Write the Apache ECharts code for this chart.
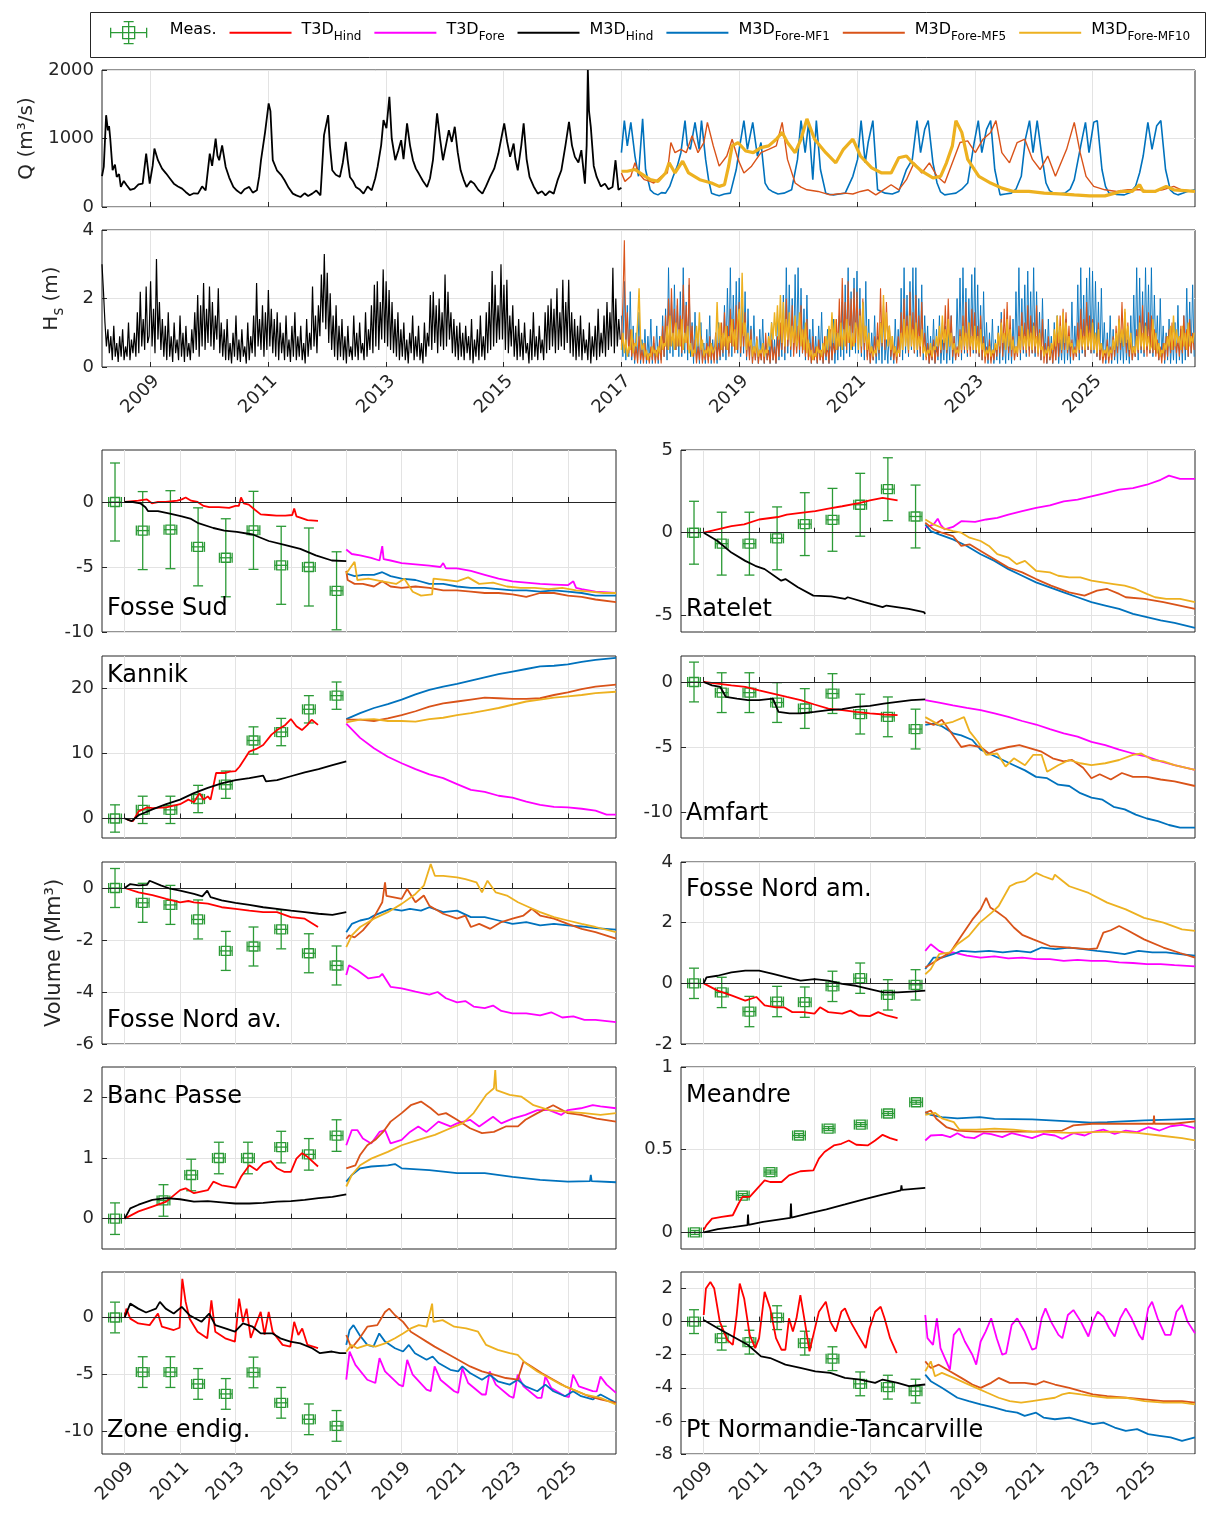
<!DOCTYPE html>
<html>
<head>
<meta charset="utf-8">
<script src="https://cdn.jsdelivr.net/npm/echarts@6/dist/echarts.min.js"></script>
<style>
  html, body { margin: 0; padding: 0; background: #fff; }
  #chart { width: 1208px; height: 1513px; }
</style>
</head>
<body>
<div id="chart"></div>
<script>
const FONT = '"DejaVu Sans", "Liberation Sans", sans-serif';
const X_MIN = 2008.18, X_MAX = 2026.74;
const YEAR_TICKS = [2009, 2011, 2013, 2015, 2017, 2019, 2021, 2023, 2025];

const COLORS = {
    meas: '#2b9a36', t3dHind: '#ff0000', t3dFore: '#ff00ff', m3dHind: '#000000',
    mf1: '#0072bd', mf5: '#d95319', mf10: '#edb120',
};
const NAMES = {
    meas: 'Meas.', t3dHind: 'T3D_Hind', t3dFore: 'T3D_Fore', m3dHind: 'M3D_Hind',
    mf1: 'M3D_Fore-MF1', mf5: 'M3D_Fore-MF5', mf10: 'M3D_Fore-MF10',
};
const LEGEND_LABELS = {
    'Meas.': '{g|}{b|Meas.}', 'T3D_Hind': '{g|}{b|T3D}{s|Hind}', 'T3D_Fore': '{g|}{b|T3D}{s|Fore}',
    'M3D_Hind': '{g|}{b|M3D}{s|Hind}', 'M3D_Fore-MF1': '{g|}{b|M3D}{s|Fore-MF1}',
    'M3D_Fore-MF5': '{g|}{b|M3D}{s|Fore-MF5}', 'M3D_Fore-MF10': '{g|}{b|M3D}{s|Fore-MF10}',
};

// ---- river discharge Q (m3/s), [year, value]
const qHind = [[2008.18,450],[2008.21,585],[2008.25,1340],[2008.28,1120],[2008.3,1180],[2008.32,1000],[2008.36,536],[2008.4,620],[2008.43,439],[2008.47,480],[2008.5,293],[2008.55,380],[2008.6,317],[2008.66,250],[2008.73,268],[2008.8,330],[2008.87,341],[2008.9,560],[2008.93,780],[2008.99,341],[2009.04,600],[2009.07,853],[2009.13,683],[2009.2,560],[2009.27,488],[2009.33,420],[2009.4,341],[2009.47,300],[2009.54,268],[2009.6,220],[2009.67,171],[2009.74,200],[2009.81,195],[2009.88,300],[2009.94,244],[2010.01,780],[2010.05,600],[2010.11,1000],[2010.14,750],[2010.17,683],[2010.22,900],[2010.28,585],[2010.34,430],[2010.41,293],[2010.47,240],[2010.54,195],[2010.6,260],[2010.68,293],[2010.74,210],[2010.81,244],[2010.85,450],[2010.88,683],[2010.95,1098],[2011.01,1512],[2011.04,1400],[2011.08,683],[2011.15,536],[2011.22,470],[2011.28,390],[2011.35,280],[2011.42,195],[2011.48,170],[2011.55,146],[2011.62,200],[2011.68,160],[2011.75,195],[2011.82,240],[2011.89,171],[2011.95,1049],[2012.02,1341],[2012.05,900],[2012.09,536],[2012.15,470],[2012.22,439],[2012.27,650],[2012.32,951],[2012.35,700],[2012.39,439],[2012.44,380],[2012.49,293],[2012.55,260],[2012.62,195],[2012.69,300],[2012.76,244],[2012.82,420],[2012.86,585],[2012.92,900],[2012.96,1268],[2013.01,1150],[2013.06,1610],[2013.1,1000],[2013.16,683],[2013.21,820],[2013.26,976],[2013.3,700],[2013.36,1220],[2013.41,900],[2013.46,683],[2013.51,560],[2013.56,488],[2013.63,380],[2013.7,293],[2013.75,420],[2013.8,683],[2013.87,1366],[2013.92,1000],[2013.97,683],[2014.02,900],[2014.07,1122],[2014.12,950],[2014.17,1171],[2014.22,800],[2014.27,536],[2014.32,400],[2014.37,293],[2014.44,380],[2014.5,341],[2014.57,250],[2014.64,195],[2014.7,300],[2014.77,439],[2014.84,560],[2014.91,780],[2014.96,1000],[2015.01,1220],[2015.06,950],[2015.11,732],[2015.17,927],[2015.2,700],[2015.24,536],[2015.3,900],[2015.34,1220],[2015.39,700],[2015.44,439],[2015.51,300],[2015.58,195],[2015.65,230],[2015.71,171],[2015.78,230],[2015.85,195],[2015.92,400],[2015.98,536],[2016.05,900],[2016.11,1244],[2016.16,900],[2016.21,732],[2016.27,650],[2016.32,829],[2016.38,341],[2016.41,900],[2016.43,2000],[2016.45,1400],[2016.48,1171],[2016.53,600],[2016.58,439],[2016.65,300],[2016.72,341],[2016.78,260],[2016.85,293],[2016.9,683],[2016.95,250],[2017.0,280]];
const qMF1 = [[2017.0,793],[2017.05,1261],[2017.1,892],[2017.16,1236],[2017.23,744],[2017.29,448],[2017.36,1286],[2017.41,547],[2017.49,251],[2017.55,200],[2017.62,177],[2017.68,210],[2017.75,202],[2017.82,300],[2017.88,448],[2017.95,600],[2018.01,793],[2018.08,1261],[2018.12,900],[2018.17,842],[2018.25,1236],[2018.32,842],[2018.36,1261],[2018.43,695],[2018.48,400],[2018.53,202],[2018.6,180],[2018.66,163],[2018.75,190],[2018.85,202],[2018.95,547],[2019.01,892],[2019.08,1261],[2019.14,842],[2019.23,1236],[2019.31,744],[2019.37,941],[2019.44,350],[2019.5,260],[2019.56,227],[2019.66,190],[2019.76,202],[2019.89,251],[2019.99,695],[2020.05,1261],[2020.12,793],[2020.18,1236],[2020.25,399],[2020.31,1261],[2020.38,547],[2020.47,202],[2020.53,185],[2020.6,177],[2020.7,190],[2020.8,202],[2020.93,448],[2021.01,695],[2021.07,1261],[2021.14,645],[2021.19,941],[2021.27,1261],[2021.35,251],[2021.48,202],[2021.6,190],[2021.71,227],[2021.84,547],[2021.94,695],[2022.02,1261],[2022.08,793],[2022.15,1133],[2022.21,1261],[2022.29,645],[2022.36,350],[2022.42,220],[2022.49,177],[2022.58,190],[2022.68,202],[2022.78,260],[2022.88,350],[2022.99,941],[2023.06,1261],[2023.12,793],[2023.2,1133],[2023.27,1261],[2023.34,547],[2023.43,177],[2023.52,190],[2023.62,202],[2023.7,260],[2023.79,448],[2023.86,990],[2023.93,1261],[2023.99,793],[2024.06,1261],[2024.14,744],[2024.21,350],[2024.27,240],[2024.34,202],[2024.43,190],[2024.53,202],[2024.62,260],[2024.69,399],[2024.81,941],[2024.88,1236],[2024.94,793],[2025.02,1236],[2025.08,1261],[2025.16,547],[2025.22,300],[2025.28,202],[2025.4,185],[2025.54,177],[2025.64,210],[2025.73,301],[2025.8,500],[2025.86,744],[2025.94,1236],[2026.01,842],[2026.09,1187],[2026.16,1261],[2026.24,547],[2026.32,251],[2026.38,200],[2026.45,177],[2026.53,200],[2026.61,227],[2026.74,251]];
const qMF5 = [[2017.0,497],[2017.06,374],[2017.16,448],[2017.23,645],[2017.29,497],[2017.39,399],[2017.47,380],[2017.55,350],[2017.68,448],[2017.78,497],[2017.84,941],[2017.91,793],[2018.01,842],[2018.1,793],[2018.2,1039],[2018.3,793],[2018.4,941],[2018.46,1236],[2018.56,892],[2018.66,596],[2018.79,744],[2018.88,990],[2018.98,695],[2019.08,497],[2019.21,596],[2019.37,793],[2019.5,842],[2019.63,892],[2019.73,1236],[2019.82,695],[2019.95,350],[2020.05,290],[2020.15,251],[2020.34,227],[2020.54,177],[2020.67,190],[2020.8,202],[2020.93,190],[2021.06,227],[2021.19,251],[2021.32,177],[2021.45,251],[2021.58,325],[2021.71,251],[2021.84,399],[2021.97,645],[2022.1,497],[2022.23,645],[2022.36,448],[2022.49,350],[2022.62,645],[2022.75,941],[2022.88,965],[2023.01,793],[2023.14,990],[2023.27,1089],[2023.36,1261],[2023.46,793],[2023.59,645],[2023.72,941],[2023.85,990],[2023.98,695],[2024.11,547],[2024.24,744],[2024.37,448],[2024.56,842],[2024.69,1236],[2024.79,793],[2024.89,448],[2025.02,301],[2025.21,251],[2025.41,227],[2025.6,251],[2025.8,251],[2025.99,227],[2026.19,251],[2026.38,301],[2026.51,251],[2026.74,227]];
const qMF10 = [[2017.0,522],[2017.1,522],[2017.23,547],[2017.36,473],[2017.49,399],[2017.62,374],[2017.75,497],[2017.81,645],[2017.91,497],[2018.04,670],[2018.14,497],[2018.33,399],[2018.53,350],[2018.66,301],[2018.75,325],[2018.82,596],[2018.88,892],[2018.98,941],[2019.11,818],[2019.24,793],[2019.37,867],[2019.5,892],[2019.63,990],[2019.73,1089],[2019.82,941],[2019.95,793],[2020.05,990],[2020.15,1286],[2020.28,990],[2020.47,793],[2020.64,645],[2020.77,842],[2020.93,990],[2021.06,744],[2021.25,571],[2021.42,497],[2021.58,497],[2021.71,719],[2021.84,744],[2021.94,645],[2022.1,522],[2022.29,424],[2022.42,448],[2022.52,645],[2022.62,892],[2022.68,1261],[2022.78,1089],[2022.88,695],[2023.07,448],[2023.27,350],[2023.46,276],[2023.66,227],[2023.92,227],[2024.18,202],[2024.44,192],[2024.69,177],[2024.95,163],[2025.21,163],[2025.38,202],[2025.47,227],[2025.67,227],[2025.8,325],[2025.86,227],[2026.06,227],[2026.25,301],[2026.38,251],[2026.74,227]];

// ---- wave height Hs (m), one sample every HS_DT years
const HS_DT = 0.025;
const HS_HIND_T0 = 2008.18;
const HS_FORE_T0 = 2017.0;
const hsHind = [
    3.0,2.2,1.3,0.6,1.1,0.4,0.9,0.2,1.2,0.3,0.7,0.15,0.9,0.3,1.1,0.2,0.6,0.3,1.3,0.2,0.8,0.4,1.0,0.3,1.6,0.4,2.2,0.6,1.4,0.5,2.35,0.7,
    0.9,2.5,0.6,1.7,0.4,3.15,0.8,1.9,0.5,1.4,0.3,1.2,0.2,1.6,0.3,0.9,0.15,1.3,0.4,0.8,0.2,1.5,0.3,1.0,0.15,1.2,0.3,0.7,0.2,1.1,0.4,1.6,0.5,2.1,0.3,1.8,0.6,2.45,0.5,1.7,
    0.7,2.35,0.6,1.9,0.5,1.5,0.8,2.3,0.4,1.3,0.3,1.1,0.2,1.4,0.2,0.7,0.1,1.0,0.3,1.5,0.2,0.8,0.15,1.1,0.3,0.6,0.1,1.3,0.2,0.9,0.4,1.5,0.3,2.45,0.6,1.4,0.5,1.8,0.3,1.6,
    0.5,2.25,0.6,1.7,0.4,1.4,0.3,1.6,0.2,1.3,0.4,1.0,0.2,1.5,0.3,0.8,0.15,1.2,0.3,1.6,0.2,0.9,0.3,1.2,0.2,0.7,0.1,1.4,0.3,1.0,0.5,2.35,0.6,1.5,0.4,1.8,0.9,2.7,1.3,3.3,
    1.1,2.75,0.7,2.15,0.5,1.5,0.3,1.8,0.2,1.2,0.3,1.4,0.2,0.9,0.1,1.2,0.3,0.6,0.2,1.5,0.3,1.0,0.2,1.3,0.4,0.7,0.2,1.6,0.3,1.1,0.5,1.8,0.4,2.4,0.6,2.5,0.5,1.9,0.8,2.85,
    0.7,2.5,0.6,2.25,0.5,1.9,0.4,1.4,0.3,1.6,0.2,1.1,0.3,1.3,0.2,0.8,0.1,1.0,0.4,1.5,0.2,0.9,0.3,1.2,0.2,0.7,0.1,1.3,0.3,1.0,0.6,2.1,0.5,2.2,0.7,1.8,0.4,2.0,0.6,1.6,
    0.5,2.7,0.6,2.2,0.8,1.6,0.4,1.4,0.3,1.2,0.2,1.3,0.3,1.0,0.2,1.2,0.4,0.9,0.2,1.4,0.1,0.8,0.3,1.1,0.2,1.5,0.3,0.9,0.2,1.6,0.4,1.9,0.5,2.8,0.6,2.4,0.7,1.8,0.8,3.0,
    0.8,2.4,0.5,2.55,0.4,1.5,0.6,1.8,0.3,1.2,0.2,1.4,0.3,1.0,0.2,1.3,0.4,0.7,0.1,1.1,0.2,1.6,0.3,0.9,0.2,1.2,0.4,0.8,0.2,1.6,0.4,1.8,0.5,2.0,0.6,1.7,0.4,2.3,0.5,1.6,
    0.6,2.55,0.5,1.9,0.7,2.55,0.4,1.6,0.3,1.4,0.2,1.2,0.3,1.5,0.2,1.1,0.4,0.8,0.2,1.3,0.1,0.9,0.3,1.2,0.2,1.7,0.3,1.0,0.4,1.5,0.3,1.9,0.5,1.6,0.6,2.9,0.4,2.0,0.6,1.4,
    0.8,
];
const hsMF1 = [
    1.5,0.3,2.5,0.2,1.8,0.3,2.2,0.2,1.2,0.1,1.0,0.2,1.6,0.1,0.8,0.2,1.1,0.1,0.9,0.2,1.4,0.1,0.7,0.2,1.2,0.1,0.9,0.2,1.5,0.3,1.7,0.2,2.9,0.4,2.0,0.3,2.4,0.5,1.8,0.3,
    2.2,0.3,2.9,0.4,1.9,0.2,2.4,0.3,1.3,0.1,1.6,0.2,0.9,0.1,1.3,0.2,0.7,0.1,1.1,0.2,1.5,0.1,0.8,0.2,1.0,0.1,1.3,0.2,0.9,0.3,1.8,0.2,2.3,0.4,2.9,0.3,2.1,0.5,2.5,0.4,
    2.6,0.3,2.0,0.4,2.2,0.2,1.7,0.3,1.2,0.1,1.5,0.2,0.8,0.1,1.1,0.2,1.4,0.1,0.7,0.2,1.0,0.1,1.3,0.2,0.8,0.1,1.6,0.2,1.0,0.3,2.1,0.2,2.9,0.4,2.4,0.3,2.0,0.5,2.7,0.4,
    2.9,0.3,2.3,0.4,1.7,0.2,2.1,0.3,1.1,0.1,1.4,0.2,0.9,0.1,1.2,0.2,1.6,0.1,0.8,0.2,1.1,0.1,0.9,0.2,1.4,0.1,1.0,0.2,1.5,0.3,1.9,0.2,2.4,0.4,2.9,0.3,2.2,0.5,2.6,0.4,
    2.8,0.4,2.3,0.3,1.9,0.2,2.5,0.3,1.4,0.1,1.0,0.2,1.5,0.1,0.9,0.2,1.3,0.1,1.7,0.2,0.8,0.1,1.2,0.2,0.9,0.1,1.4,0.2,1.1,0.3,2.3,0.2,2.9,0.4,2.1,0.3,2.5,0.5,2.9,0.4,
    2.9,0.3,2.0,0.4,2.4,0.2,1.5,0.3,1.2,0.1,0.9,0.2,1.4,0.1,1.1,0.2,1.5,0.1,0.8,0.2,1.2,0.1,1.0,0.2,1.5,0.1,0.9,0.2,2.0,0.3,2.6,0.2,2.9,0.4,2.3,0.3,2.0,0.5,2.7,0.4,
    2.9,0.4,2.4,0.3,1.8,0.2,2.2,0.3,1.3,0.1,1.0,0.2,1.4,0.1,0.8,0.2,1.2,0.1,1.6,0.2,0.9,0.1,1.3,0.2,1.0,0.1,1.4,0.2,2.2,0.3,2.9,0.2,2.0,0.4,2.4,0.3,2.8,0.5,2.2,0.4,
    2.9,0.3,2.2,0.4,1.6,0.2,2.0,0.3,1.1,0.1,1.4,0.2,0.9,0.1,1.3,0.2,1.5,0.1,0.8,0.2,1.1,0.1,1.4,0.2,0.9,0.1,1.9,0.2,1.2,0.3,2.4,0.2,2.9,0.4,2.1,0.3,2.6,0.5,2.9,0.4,
    2.8,0.4,2.5,0.3,1.9,0.2,2.3,0.3,1.3,0.1,1.0,0.2,1.5,0.1,1.1,0.2,0.9,0.1,1.4,0.2,1.0,0.1,1.3,0.2,0.8,0.1,1.5,0.2,2.1,0.3,2.9,0.2,2.6,0.4,2.2,0.3,2.9,0.5,2.4,0.4,
    2.9,0.3,2.1,0.4,1.5,0.2,2.0,0.3,1.2,0.1,1.0,0.2,1.4,0.1,0.9,0.2,1.3,0.1,1.8,0.2,1.1,0.1,1.5,0.2,2.3,0.3,1.9,0.4,2.4,0.3,
];
const hsMF5 = [
    0.6,1.9,3.7,0.7,1.6,0.4,1.1,0.3,0.8,0.2,0.6,0.1,0.9,0.2,0.5,0.1,0.7,0.2,0.4,0.1,0.6,0.2,0.9,0.1,0.5,0.2,0.8,0.1,1.2,0.3,1.5,0.5,2.0,0.6,2.3,0.8,1.7,0.5,2.0,0.6,
    1.5,0.4,2.4,0.7,1.8,0.5,2.6,0.6,1.2,0.3,0.8,0.1,0.6,0.2,0.9,0.1,0.5,0.2,0.7,0.1,0.9,0.2,0.6,0.1,1.0,0.2,0.7,0.3,1.3,0.4,1.6,0.5,1.2,0.3,1.7,0.6,1.4,0.4,1.8,0.5,
    1.9,0.4,1.3,0.6,1.6,0.3,0.9,0.2,1.1,0.1,0.6,0.2,0.9,0.1,0.5,0.2,0.7,0.1,1.0,0.2,0.5,0.1,0.8,0.2,0.6,0.1,0.9,0.3,1.3,0.5,1.6,0.4,2.0,0.6,1.4,0.5,1.8,0.3,1.2,0.4,
    1.2,0.5,1.8,0.4,1.1,0.3,1.4,0.2,0.7,0.1,0.9,0.2,0.6,0.1,0.8,0.2,0.5,0.1,0.9,0.3,0.6,0.1,1.1,0.2,0.7,0.4,1.4,0.5,2.0,0.6,2.6,0.8,1.9,0.5,2.5,0.7,2.0,0.6,2.3,0.7,
    2.2,0.6,1.7,0.4,2.0,0.5,1.2,0.2,0.8,0.1,0.6,0.2,0.9,0.3,1.3,0.4,2.3,0.6,1.8,0.5,1.9,0.7,1.2,0.3,0.8,0.2,0.6,0.1,0.9,0.3,1.6,0.5,2.0,0.7,1.5,0.4,2.2,0.6,1.6,0.4,
    2.1,0.5,1.5,0.3,1.9,0.4,1.0,0.2,0.7,0.1,0.5,0.2,0.8,0.1,0.6,0.3,1.0,0.4,1.3,0.5,1.8,0.4,2.0,0.6,1.5,0.3,0.9,0.2,0.6,0.3,1.1,0.4,1.5,0.5,1.9,0.4,1.3,0.3,1.7,0.5,
    1.6,0.4,1.2,0.3,1.5,0.2,0.9,0.1,0.6,0.2,0.8,0.1,0.5,0.2,0.7,0.3,1.0,0.4,1.4,0.3,1.7,0.5,1.9,0.4,1.5,0.3,0.9,0.2,0.6,0.3,1.2,0.4,1.6,0.5,1.3,0.4,1.8,0.3,1.5,0.4,
    1.3,0.4,1.8,0.3,1.1,0.2,1.4,0.1,0.7,0.1,0.9,0.2,0.6,0.1,0.8,0.2,1.0,0.3,1.5,0.4,1.7,0.5,1.6,0.4,1.2,0.3,0.8,0.2,0.6,0.3,1.3,0.4,1.7,0.5,1.4,0.3,1.9,0.5,1.5,0.4,
    1.4,0.5,1.0,0.3,1.3,0.2,0.7,0.1,0.5,0.2,0.8,0.1,0.6,0.2,0.9,0.3,1.2,0.4,1.5,0.5,1.9,0.6,1.6,0.4,1.3,0.3,0.8,0.2,0.6,0.3,1.1,0.4,1.5,0.5,1.8,0.4,1.3,0.3,1.6,0.4,
    1.5,0.4,1.1,0.3,0.8,0.2,0.6,0.1,0.7,0.2,0.9,0.3,1.1,0.4,1.3,0.5,1.0,0.4,0.8,0.3,1.2,0.4,1.5,0.5,1.1,0.3,1.4,0.4,1.0,0.5,
];
const hsMF10 = [
    0.5,1.0,0.4,0.8,0.3,0.6,0.5,1.1,0.4,0.7,0.6,1.3,2.3,0.8,0.5,0.7,0.3,0.5,0.2,0.4,0.3,0.6,0.4,0.5,0.3,0.6,0.4,0.9,0.5,0.7,0.6,1.2,0.5,1.5,0.6,1.0,0.5,1.3,0.6,1.1,
    0.6,1.4,0.5,1.0,0.7,1.2,0.4,0.7,0.3,0.5,0.4,1.2,0.6,1.6,0.5,0.8,0.3,0.5,0.4,0.6,0.3,0.7,0.4,0.5,0.6,1.9,0.7,1.3,0.5,1.0,0.6,1.2,0.5,0.9,0.7,1.4,0.6,1.1,0.5,1.3,
    1.7,0.6,2.75,0.9,1.3,0.5,1.0,0.6,0.8,0.3,0.6,0.4,0.8,0.3,0.5,0.4,0.7,0.3,0.5,0.4,0.9,0.6,1.3,0.8,1.6,0.9,1.8,0.8,2.1,0.7,1.9,0.6,1.4,0.8,1.6,0.6,1.2,0.7,1.5,0.6,
    0.8,1.6,0.6,1.1,0.5,1.3,0.4,0.8,0.3,0.5,0.2,0.4,0.3,0.6,0.4,0.5,0.3,0.7,0.4,0.9,0.5,1.2,0.6,1.6,0.7,1.4,0.5,1.0,0.6,1.3,0.5,1.1,0.6,1.4,0.7,1.2,0.5,1.0,0.6,1.3,
    1.1,0.5,1.5,0.6,1.9,0.7,1.2,0.5,1.0,0.4,0.6,0.3,0.5,0.4,0.8,0.5,1.3,0.7,2.1,0.8,1.6,0.6,1.2,0.5,0.9,0.4,0.6,0.3,0.5,0.4,1.0,0.5,1.4,0.6,1.2,0.5,1.5,0.6,1.1,0.5,
    1.3,0.5,0.9,0.6,1.1,0.4,0.6,0.3,0.5,0.4,0.7,0.3,0.6,0.5,0.9,0.6,1.2,0.5,1.5,0.7,1.1,0.5,1.4,0.6,1.0,0.5,0.7,0.4,0.5,0.4,0.9,0.5,1.2,0.6,1.0,0.5,1.3,0.6,0.9,0.5,
    1.2,0.5,0.9,0.4,1.1,0.5,0.7,0.3,0.5,0.4,0.6,0.3,0.5,0.4,0.7,0.5,1.0,0.6,1.3,0.7,1.0,0.5,1.4,0.6,1.1,0.5,0.8,0.4,0.6,0.4,0.9,0.5,1.2,0.6,0.9,0.5,1.1,0.6,1.0,0.5,
    1.2,0.6,0.9,0.4,1.0,0.5,0.6,0.3,0.5,0.4,0.6,0.3,0.7,0.5,1.1,0.6,1.5,0.7,1.2,0.5,1.6,0.7,1.3,0.5,0.9,0.6,0.7,0.4,0.5,0.4,0.8,0.5,1.1,0.6,0.9,0.5,1.2,0.6,1.0,0.5,
    1.3,0.5,1.0,0.4,1.1,0.5,0.7,0.3,0.5,0.4,0.6,0.3,0.5,0.4,0.8,0.5,1.0,0.6,1.4,0.7,1.1,0.6,1.7,0.7,1.2,0.5,1.0,0.4,0.6,0.4,0.9,0.5,1.3,0.6,1.0,0.5,1.2,0.6,0.9,0.5,
    0.6,1.4,0.5,1.0,0.4,0.7,0.3,0.5,0.4,0.7,0.5,0.9,0.6,1.2,0.5,1.5,0.6,1.1,0.7,0.9,0.5,1.2,0.6,1.0,0.5,1.3,0.6,0.9,0.7,1.0,
];

// ---- survey measurements (Mm3), one per year unless listed
const MEAS_T = [2008.65, 2009.65, 2010.65, 2011.65, 2012.65, 2013.65, 2014.65, 2015.65, 2016.65];
const BP_MEAS_T = [2008.65, 2010.4, 2011.4, 2012.4, 2013.45, 2014.65, 2015.65, 2016.65];
const MD_MEAS_T = [2008.68, 2010.41, 2011.41, 2012.44, 2013.51, 2014.67, 2015.66, 2016.67];
const fsMeasV = [0, -2.2, -2.13, -3.45, -4.29, -2.18, -4.87, -5.0, -6.83];
const rtMeasV = [0, -0.66, -0.66, -0.34, 0.52, 0.78, 1.69, 2.63, 0.98];
const knMeasV = [0, 1.33, 1.33, 3.0, 5.2, 12.0, 13.3, 16.8, 18.9];
const amMeasV = [0, -0.82, -0.82, -1.58, -2.04, -0.89, -2.47, -2.68, -3.62];
const fnaMeasV = [0, -0.57, -0.65, -1.21, -2.42, -2.25, -1.59, -2.51, -2.98];
const fnmMeasV = [0, -0.3, -0.93, -0.6, -0.62, -0.1, 0.17, -0.38, -0.05];
const bpMeasV = [0, 0.3, 0.72, 1.0, 1.0, 1.18, 1.06, 1.37];
const mdMeasV = [0, 0.223, 0.365, 0.586, 0.628, 0.652, 0.719, 0.787];
const zeMeasV = [0, -4.8, -4.8, -5.84, -6.72, -4.83, -7.5, -8.95, -9.53];
const pnMeasV = [0, -1.0, -1.24, 0.24, -1.3, -2.24, -3.76, -3.96, -4.2];
const MEAS_ERR = { fs: 3.0, rt: 1.9, kn: 2.1, am: 1.53, fna: 0.75, fnm: 0.5, bp: 0.26, md: 0.012, ze: 1.35, pn: 0.72 };

// ---- Fosse Sud
const fsT3dHind = [[2009.0,0],[2009.49,0.1],[2009.8,0.2],[2009.85,0.3],[2009.98,-0.1],[2010.2,0.0],[2010.48,0.0],[2010.9,0.1],[2011.06,0.2],[2011.2,0.35],[2011.4,0.1],[2011.63,0.0],[2011.85,-0.3],[2012.05,-0.4],[2012.4,-0.4],[2012.77,-0.45],[2013.0,-0.3],[2013.12,-0.3],[2013.2,0.35],[2013.3,-0.1],[2013.48,-0.2],[2013.7,-0.6],[2013.91,-0.95],[2014.2,-1.0],[2014.48,-1.05],[2014.8,-1.05],[2015.05,-1.0],[2015.12,-0.5],[2015.2,-1.1],[2015.34,-1.2],[2015.6,-1.4],[2015.98,-1.45]];
const fsM3dHind = [[2009.0,0],[2009.3,0.0],[2009.56,-0.1],[2009.75,-0.4],[2009.84,-0.7],[2010.2,-0.7],[2010.63,-0.9],[2011.06,-1.1],[2011.4,-1.3],[2011.63,-1.6],[2012.2,-2.0],[2012.6,-2.2],[2013.05,-2.3],[2013.62,-2.5],[2014.2,-3.0],[2014.77,-3.3],[2015.34,-3.6],[2015.9,-4.1],[2016.48,-4.5],[2017.0,-4.55]];
const fsT3dFore = [[2017.0,-3.65],[2017.2,-4.0],[2017.5,-4.1],[2017.9,-4.3],[2018.2,-4.5],[2018.3,-3.4],[2018.35,-4.4],[2018.6,-4.5],[2019.0,-4.7],[2019.5,-4.8],[2020.0,-4.9],[2020.4,-5.0],[2020.5,-4.7],[2020.6,-5.1],[2021.0,-5.1],[2021.5,-5.3],[2022.0,-5.6],[2022.5,-5.9],[2023.0,-6.1],[2023.5,-6.2],[2024.0,-6.3],[2024.5,-6.35],[2025.0,-6.4],[2025.2,-6.1],[2025.3,-6.6],[2025.5,-6.7],[2026.0,-6.9],[2026.74,-7.0]];
const fsMF1 = [[2017.0,-5.5],[2017.3,-5.7],[2017.6,-5.6],[2018.0,-5.6],[2018.3,-5.4],[2018.6,-5.7],[2019.0,-5.9],[2019.5,-6.0],[2020.0,-6.3],[2020.5,-6.3],[2021.0,-6.5],[2021.5,-6.6],[2022.0,-6.6],[2022.5,-6.7],[2023.0,-6.8],[2023.5,-6.8],[2024.0,-6.9],[2024.5,-6.8],[2025.0,-6.9],[2025.5,-7.0],[2026.0,-7.2],[2026.74,-7.2]];
const fsMF5 = [[2017.0,-5.3],[2017.05,-6.0],[2017.3,-6.3],[2017.6,-6.3],[2018.0,-6.5],[2018.3,-6.1],[2018.6,-6.5],[2019.0,-6.6],[2019.5,-6.5],[2020.0,-6.6],[2020.5,-6.8],[2021.0,-6.8],[2021.5,-6.9],[2022.0,-7.0],[2022.5,-7.0],[2023.0,-7.1],[2023.5,-7.3],[2024.0,-7.0],[2024.5,-7.0],[2025.0,-7.2],[2025.5,-7.3],[2026.0,-7.5],[2026.74,-7.7]];
const fsMF10 = [[2017.0,-5.5],[2017.3,-4.6],[2017.4,-6.0],[2017.8,-5.9],[2018.3,-6.1],[2018.8,-6.3],[2019.1,-5.9],[2019.4,-6.9],[2019.7,-7.2],[2020.1,-7.1],[2020.15,-5.9],[2020.6,-6.0],[2021.0,-6.1],[2021.4,-5.8],[2021.8,-6.3],[2022.3,-6.2],[2022.8,-6.5],[2023.3,-6.6],[2023.8,-6.6],[2024.3,-6.7],[2024.8,-6.6],[2025.3,-6.8],[2025.8,-6.9],[2026.3,-7.0],[2026.74,-7.0]];

// ---- Ratelet
const rtT3dHind = [[2009.0,0],[2009.5,0.2],[2010.0,0.4],[2010.46,0.5],[2011.0,0.8],[2011.68,0.95],[2012.0,1.1],[2012.5,1.2],[2013.03,1.3],[2013.5,1.45],[2014.0,1.6],[2014.65,1.8],[2015.0,1.95],[2015.46,2.1],[2016.0,1.95]];
const rtM3dHind = [[2009.0,0],[2009.5,-0.5],[2010.0,-1.2],[2010.5,-1.7],[2010.86,-2.0],[2011.2,-2.2],[2011.8,-2.9],[2011.95,-2.8],[2012.4,-3.3],[2012.96,-3.8],[2013.6,-3.85],[2014.1,-4.0],[2014.2,-3.9],[2014.8,-4.2],[2015.46,-4.5],[2015.6,-4.4],[2016.4,-4.6],[2016.95,-4.8],[2017.0,-4.9]];
const rtT3dFore = [[2017.0,0.3],[2017.3,0.5],[2017.45,0.85],[2017.55,0.5],[2017.7,0.2],[2018.0,0.35],[2018.3,0.7],[2018.8,0.65],[2019.2,0.8],[2019.6,0.9],[2020.0,1.1],[2020.5,1.3],[2021.0,1.5],[2021.5,1.65],[2022.0,1.9],[2022.5,2.0],[2023.0,2.2],[2023.5,2.4],[2024.0,2.6],[2024.5,2.7],[2025.0,2.9],[2025.5,3.2],[2025.8,3.45],[2026.2,3.25],[2026.74,3.25]];
const rtMF1 = [[2017.0,0.5],[2017.2,0.1],[2017.5,-0.1],[2018.0,-0.4],[2018.5,-0.8],[2019.0,-1.3],[2019.5,-1.7],[2020.0,-2.2],[2020.5,-2.6],[2021.0,-3.0],[2021.5,-3.3],[2022.0,-3.6],[2022.5,-3.9],[2023.0,-4.2],[2023.5,-4.4],[2024.0,-4.6],[2024.5,-4.9],[2025.0,-5.1],[2025.5,-5.3],[2026.0,-5.45],[2026.74,-5.75]];
const rtMF5 = [[2017.0,0.6],[2017.3,0.2],[2017.6,0.0],[2018.0,-0.2],[2018.3,-0.8],[2018.6,-0.7],[2019.0,-1.1],[2019.5,-1.6],[2020.0,-2.1],[2020.5,-2.4],[2021.0,-2.8],[2021.54,-3.2],[2022.2,-3.6],[2022.75,-3.8],[2023.2,-3.5],[2023.57,-3.4],[2024.0,-3.7],[2024.24,-3.9],[2024.92,-4.0],[2025.6,-4.2],[2026.74,-4.6]];
const rtMF10 = [[2017.0,0.8],[2017.3,0.5],[2017.6,0.3],[2018.0,0.1],[2018.3,0.0],[2018.6,-0.3],[2019.0,-0.5],[2019.3,-0.8],[2019.6,-1.3],[2020.0,-1.5],[2020.3,-1.9],[2020.6,-1.7],[2021.0,-2.3],[2021.5,-2.4],[2021.8,-2.6],[2022.2,-2.7],[2022.6,-2.7],[2023.0,-2.9],[2023.4,-3.0],[2023.8,-3.1],[2024.2,-3.2],[2024.6,-3.4],[2025.0,-3.7],[2025.3,-3.9],[2025.7,-4.0],[2026.2,-4.0],[2026.74,-4.2]];

// ---- Kannik
const knT3dHind = [[2009.1,-0.2],[2009.3,-0.4],[2009.5,1.1],[2009.8,1.7],[2010.0,1.6],[2010.5,1.7],[2011.0,2.2],[2011.3,2.9],[2011.5,2.5],[2011.7,3.9],[2011.85,2.9],[2012.0,3.4],[2012.1,2.9],[2012.3,7.0],[2012.6,7.0],[2012.8,7.2],[2013.0,7.3],[2013.15,8.0],[2013.35,9.3],[2013.5,10.3],[2013.75,10.7],[2014.0,11.3],[2014.3,12.9],[2014.5,13.6],[2014.8,14.4],[2015.0,15.3],[2015.2,14.2],[2015.4,13.6],[2015.6,14.4],[2015.75,15.2],[2015.98,14.4]];
const knM3dHind = [[2009.0,0],[2009.25,-0.4],[2009.5,0.5],[2010.0,1.4],[2010.5,2.2],[2011.0,2.9],[2011.5,3.9],[2012.0,4.7],[2012.5,5.4],[2013.0,5.9],[2013.5,6.2],[2014.0,6.6],[2014.1,5.7],[2014.5,5.9],[2015.0,6.5],[2015.5,7.1],[2016.0,7.6],[2016.5,8.2],[2017.0,8.8]];
const knT3dFore = [[2017.0,14.6],[2017.5,12.4],[2018.0,10.8],[2018.5,9.5],[2019.0,8.5],[2019.5,7.6],[2020.0,6.8],[2020.5,6.2],[2021.0,5.3],[2021.5,4.4],[2022.0,4.1],[2022.5,3.5],[2023.0,3.2],[2023.5,2.6],[2024.0,2.1],[2024.5,1.8],[2025.0,1.7],[2025.5,1.5],[2026.0,1.2],[2026.4,0.6],[2026.74,0.6]];
const knMF1 = [[2017.0,15.3],[2017.5,16.2],[2018.0,17.0],[2018.5,17.6],[2019.0,18.3],[2019.5,19.1],[2020.0,19.8],[2020.5,20.3],[2021.0,20.7],[2021.5,21.2],[2022.0,21.7],[2022.5,22.2],[2023.0,22.6],[2023.5,23.0],[2024.0,23.4],[2024.5,23.5],[2025.0,23.7],[2025.5,24.1],[2026.0,24.4],[2026.74,24.7]];
const knMF5 = [[2017.0,15.2],[2017.5,15.2],[2018.0,15.0],[2018.5,15.4],[2019.0,15.9],[2019.5,16.5],[2020.0,17.2],[2020.5,17.7],[2021.0,18.0],[2021.5,18.3],[2022.0,18.6],[2022.5,18.5],[2023.0,18.4],[2023.5,18.4],[2024.0,18.5],[2024.5,19.0],[2025.0,19.4],[2025.5,19.9],[2026.0,20.3],[2026.74,20.6]];
const knMF10 = [[2017.0,14.8],[2017.5,15.2],[2018.0,15.3],[2018.5,15.0],[2019.0,15.0],[2019.5,14.9],[2020.0,15.3],[2020.5,15.5],[2021.0,15.9],[2021.5,16.2],[2022.0,16.6],[2022.5,17.0],[2023.0,17.5],[2023.5,18.0],[2024.0,18.3],[2024.5,18.6],[2025.0,18.8],[2025.5,19.0],[2026.0,19.3],[2026.74,19.5]];

// ---- Amfart
const amT3dHind = [[2009.0,0],[2009.5,-0.13],[2010.0,-0.26],[2010.5,-0.38],[2011.0,-0.64],[2011.5,-0.89],[2012.0,-1.15],[2012.5,-1.4],[2013.0,-1.73],[2013.5,-2.04],[2014.0,-2.17],[2014.5,-2.3],[2015.0,-2.42],[2015.5,-2.5],[2016.0,-2.55]];
const amM3dHind = [[2009.0,0],[2009.3,-0.26],[2009.6,-0.38],[2009.8,-1.15],[2010.2,-1.28],[2010.6,-1.4],[2011.0,-1.4],[2011.5,-1.28],[2011.7,-2.3],[2012.1,-2.42],[2012.5,-2.42],[2013.0,-2.3],[2013.5,-2.17],[2014.0,-2.09],[2014.5,-1.91],[2015.0,-1.84],[2015.5,-1.66],[2016.0,-1.53],[2016.5,-1.4],[2017.0,-1.33]];
const amT3dFore = [[2017.0,-1.4],[2017.5,-1.58],[2018.0,-1.79],[2018.5,-1.99],[2019.0,-2.17],[2019.5,-2.42],[2020.0,-2.68],[2020.5,-3.0],[2021.0,-3.27],[2021.5,-3.62],[2022.0,-3.95],[2022.5,-4.2],[2023.0,-4.6],[2023.5,-4.85],[2024.0,-5.2],[2024.5,-5.5],[2025.0,-5.74],[2025.5,-6.1],[2026.0,-6.4],[2026.74,-6.76]];
const amMF1 = [[2017.0,-3.3],[2017.3,-3.2],[2017.6,-3.4],[2018.0,-3.95],[2018.3,-4.1],[2018.7,-4.46],[2019.0,-5.2],[2019.4,-5.6],[2019.8,-6.0],[2020.2,-6.4],[2020.6,-6.8],[2021.0,-7.3],[2021.4,-7.4],[2021.8,-7.9],[2022.2,-8.0],[2022.6,-8.55],[2023.0,-8.9],[2023.4,-9.05],[2023.8,-9.6],[2024.2,-9.8],[2024.6,-10.2],[2025.0,-10.5],[2025.4,-10.7],[2025.8,-11.0],[2026.2,-11.2],[2026.74,-11.2]];
const amMF5 = [[2017.0,-3.06],[2017.3,-3.3],[2017.6,-2.9],[2018.0,-4.1],[2018.3,-5.0],[2018.6,-4.85],[2019.0,-5.0],[2019.3,-5.5],[2019.6,-5.2],[2020.0,-5.0],[2020.4,-4.85],[2020.8,-5.1],[2021.2,-5.36],[2021.6,-5.87],[2022.0,-6.1],[2022.3,-6.0],[2022.7,-6.6],[2023.0,-7.4],[2023.3,-7.1],[2023.7,-7.5],[2024.1,-7.0],[2024.5,-7.3],[2025.0,-7.3],[2025.5,-7.5],[2026.0,-7.65],[2026.74,-8.0]];
const amMF10 = [[2017.0,-2.7],[2017.5,-3.3],[2018.0,-3.06],[2018.4,-2.7],[2018.6,-3.8],[2018.9,-4.6],[2019.2,-5.6],[2019.6,-5.5],[2019.9,-6.5],[2020.2,-5.87],[2020.6,-6.4],[2020.9,-5.6],[2021.2,-5.6],[2021.4,-6.9],[2021.8,-6.4],[2022.2,-6.0],[2022.6,-6.25],[2023.0,-6.4],[2023.5,-6.25],[2024.0,-6.0],[2024.5,-5.6],[2024.8,-5.5],[2025.2,-6.0],[2025.6,-6.1],[2026.0,-6.4],[2026.74,-6.76]];

// ---- Fosse Nord av.
const fnaT3dHind = [[2009.0,0],[2009.5,-0.17],[2010.0,-0.27],[2010.5,-0.42],[2011.0,-0.55],[2011.3,-0.5],[2011.5,-0.55],[2012.0,-0.6],[2012.5,-0.74],[2013.0,-0.8],[2013.5,-0.87],[2014.0,-0.93],[2014.5,-0.93],[2015.0,-1.12],[2015.5,-1.18],[2015.98,-1.5]];
const fnaM3dHind = [[2009.0,0],[2009.2,0.15],[2009.5,0.1],[2009.8,0.12],[2009.9,0.28],[2010.3,0.1],[2010.6,-0.01],[2011.0,-0.1],[2011.5,-0.23],[2011.8,-0.32],[2011.98,-0.1],[2012.1,-0.35],[2012.5,-0.48],[2013.0,-0.57],[2013.5,-0.65],[2014.0,-0.74],[2014.5,-0.8],[2015.0,-0.87],[2015.5,-0.93],[2016.0,-0.99],[2016.5,-1.03],[2017.0,-0.93]];
const fnaT3dFore = [[2017.0,-3.35],[2017.1,-2.97],[2017.4,-3.16],[2017.8,-3.48],[2018.2,-3.41],[2018.3,-3.3],[2018.6,-3.8],[2019.0,-3.86],[2019.5,-3.99],[2020.0,-4.1],[2020.3,-4.0],[2020.6,-4.24],[2021.0,-4.4],[2021.3,-4.35],[2021.6,-4.56],[2022.0,-4.62],[2022.3,-4.52],[2022.6,-4.73],[2023.0,-4.82],[2023.5,-4.82],[2024.0,-4.9],[2024.4,-4.78],[2024.8,-4.98],[2025.2,-4.94],[2025.6,-5.07],[2026.0,-5.07],[2026.74,-5.16]];
const fnaMF1 = [[2017.0,-1.7],[2017.2,-1.38],[2017.5,-1.25],[2017.8,-1.18],[2018.0,-1.06],[2018.3,-0.93],[2018.6,-0.8],[2019.0,-0.87],[2019.3,-0.8],[2019.7,-0.87],[2020.0,-0.74],[2020.5,-0.93],[2021.0,-0.87],[2021.5,-1.12],[2022.0,-1.12],[2022.5,-1.25],[2023.0,-1.38],[2023.5,-1.31],[2024.0,-1.44],[2024.5,-1.38],[2025.0,-1.44],[2025.5,-1.48],[2026.0,-1.54],[2026.74,-1.6]];
const fnaMF5 = [[2017.0,-1.95],[2017.1,-1.82],[2017.3,-1.9],[2017.6,-1.63],[2018.0,-1.12],[2018.3,-0.55],[2018.4,0.22],[2018.45,-0.3],[2018.5,-0.23],[2019.0,-0.42],[2019.2,-0.04],[2019.5,-0.55],[2019.8,-0.29],[2020.0,-0.68],[2020.5,-0.99],[2021.0,-1.18],[2021.3,-1.06],[2021.5,-1.5],[2021.8,-1.38],[2022.2,-1.57],[2022.6,-1.31],[2023.0,-1.18],[2023.4,-1.06],[2023.7,-0.8],[2024.0,-1.06],[2024.5,-1.18],[2025.0,-1.38],[2025.5,-1.57],[2026.0,-1.7],[2026.74,-1.95]];
const fnaMF10 = [[2017.0,-2.27],[2017.2,-1.82],[2017.5,-1.5],[2018.0,-1.18],[2018.5,-0.93],[2019.0,-0.61],[2019.5,-0.23],[2019.8,0.09],[2020.05,0.92],[2020.2,0.47],[2020.5,0.47],[2021.0,0.41],[2021.3,0.34],[2021.7,0.22],[2021.9,-0.17],[2022.1,0.28],[2022.4,-0.17],[2022.8,-0.29],[2023.2,-0.55],[2023.6,-0.74],[2024.0,-0.93],[2024.5,-1.12],[2025.0,-1.25],[2025.5,-1.38],[2026.0,-1.5],[2026.74,-1.7]];

// ---- Fosse Nord am.
const fnmT3dHind = [[2009.0,0],[2009.5,-0.24],[2010.0,-0.4],[2010.5,-0.57],[2010.9,-0.45],[2011.2,-0.73],[2011.6,-0.79],[2011.9,-0.79],[2012.2,-0.95],[2012.6,-0.95],[2013.0,-1.0],[2013.2,-0.79],[2013.5,-0.95],[2014.0,-1.0],[2014.3,-0.9],[2014.6,-1.06],[2015.0,-1.08],[2015.3,-0.95],[2015.6,-1.06],[2016.0,-1.15]];
const fnmM3dHind = [[2009.0,0],[2009.1,0.2],[2009.5,0.25],[2010.0,0.36],[2010.5,0.42],[2011.0,0.42],[2011.5,0.31],[2012.0,0.2],[2012.5,0.09],[2013.0,0.14],[2013.5,0.09],[2014.0,-0.02],[2014.5,-0.08],[2015.0,-0.19],[2015.5,-0.3],[2016.0,-0.3],[2016.5,-0.27],[2017.0,-0.24]];
const fnmT3dFore = [[2017.0,1.07],[2017.2,1.29],[2017.5,1.07],[2017.8,0.96],[2018.0,1.02],[2018.5,0.91],[2019.0,0.85],[2019.5,0.89],[2020.0,0.82],[2020.5,0.85],[2021.0,0.8],[2021.5,0.8],[2022.0,0.74],[2022.5,0.77],[2023.0,0.74],[2023.5,0.74],[2024.0,0.69],[2024.5,0.67],[2025.0,0.63],[2025.5,0.63],[2026.0,0.6],[2026.74,0.56]];
const fnmMF1 = [[2017.0,0.47],[2017.3,0.85],[2017.6,0.85],[2018.0,0.96],[2018.3,1.07],[2018.8,1.04],[2019.3,1.07],[2019.8,1.02],[2020.3,1.07],[2020.8,1.02],[2021.2,1.18],[2021.7,1.13],[2022.2,1.18],[2022.7,1.13],[2023.2,1.07],[2023.7,1.02],[2024.2,0.96],[2024.7,1.07],[2025.2,1.02],[2025.7,1.02],[2026.2,0.96],[2026.74,0.91]];
const fnmMF5 = [[2017.0,0.52],[2017.5,0.8],[2017.9,1.02],[2018.3,1.56],[2018.7,2.1],[2019.0,2.44],[2019.2,2.82],[2019.35,2.5],[2019.6,2.35],[2019.9,2.15],[2020.2,1.84],[2020.5,1.6],[2020.9,1.45],[2021.5,1.23],[2022.2,1.18],[2022.9,1.13],[2023.2,1.15],[2023.43,1.67],[2023.7,1.75],[2024.0,1.89],[2024.3,1.75],[2024.9,1.45],[2025.6,1.18],[2026.2,1.0],[2026.74,0.85]];
const fnmMF10 = [[2017.0,0.3],[2017.2,0.47],[2017.5,0.96],[2017.9,1.02],[2018.16,1.29],[2018.57,1.56],[2018.97,2.0],[2019.4,2.33],[2019.65,2.55],[2020.05,3.2],[2020.3,3.31],[2020.6,3.37],[2021.0,3.64],[2021.27,3.53],[2021.6,3.42],[2021.68,3.58],[2022.2,3.2],[2022.9,2.98],[2023.57,2.66],[2024.24,2.44],[2024.9,2.16],[2025.6,2.0],[2026.27,1.78],[2026.74,1.73]];

// ---- Banc Passe
const bpT3dHind = [[2009.0,0],[2009.5,0.12],[2010.0,0.2],[2010.5,0.28],[2011.0,0.47],[2011.2,0.5],[2011.5,0.42],[2012.0,0.47],[2012.2,0.61],[2012.5,0.55],[2013.0,0.51],[2013.2,0.69],[2013.5,0.88],[2013.77,0.8],[2014.0,0.91],[2014.27,0.95],[2014.5,0.83],[2014.77,0.77],[2015.0,0.77],[2015.2,0.99],[2015.4,1.08],[2015.6,1.02],[2015.98,0.86]];
const bpM3dHind = [[2009.0,0],[2009.2,0.17],[2009.5,0.23],[2010.0,0.31],[2010.5,0.34],[2011.0,0.32],[2011.5,0.28],[2012.0,0.29],[2012.5,0.27],[2013.0,0.25],[2013.5,0.25],[2014.0,0.26],[2014.5,0.28],[2015.0,0.29],[2015.5,0.31],[2016.0,0.34],[2016.5,0.36],[2017.0,0.4]];
const bpT3dFore = [[2017.0,1.21],[2017.2,1.46],[2017.4,1.46],[2017.6,1.32],[2017.9,1.24],[2018.2,1.43],[2018.4,1.46],[2018.6,1.24],[2019.0,1.3],[2019.3,1.43],[2019.6,1.52],[2019.9,1.43],[2020.33,1.6],[2020.76,1.52],[2021.0,1.57],[2021.47,1.63],[2021.8,1.52],[2022.3,1.68],[2022.6,1.57],[2023.0,1.65],[2023.47,1.71],[2023.9,1.79],[2024.33,1.79],[2024.76,1.71],[2025.0,1.79],[2025.47,1.82],[2025.9,1.87],[2026.18,1.85],[2026.74,1.82]];
const bpMF1 = [[2017.0,0.61],[2017.2,0.72],[2017.5,0.83],[2017.9,0.86],[2018.5,0.88],[2018.76,0.9],[2019.0,0.83],[2020.0,0.8],[2021.0,0.75],[2022.0,0.75],[2023.0,0.69],[2024.0,0.64],[2025.0,0.61],[2025.8,0.62],[2025.83,0.72],[2025.86,0.62],[2026.74,0.6]];
const bpMF5 = [[2017.0,0.83],[2017.33,0.88],[2017.5,1.05],[2017.76,1.21],[2018.05,1.3],[2018.33,1.43],[2018.6,1.6],[2019.0,1.74],[2019.33,1.87],[2019.7,1.93],[2020.05,1.82],[2020.33,1.71],[2020.6,1.74],[2021.0,1.63],[2021.47,1.49],[2021.9,1.41],[2022.33,1.43],[2022.76,1.52],[2023.2,1.52],[2023.47,1.63],[2023.9,1.74],[2024.47,1.87],[2025.0,1.74],[2025.47,1.71],[2026.04,1.65],[2026.74,1.6]];
const bpMF10 = [[2017.0,0.53],[2017.2,0.72],[2017.5,0.88],[2017.9,0.99],[2018.5,1.1],[2019.0,1.21],[2019.6,1.3],[2020.2,1.38],[2020.76,1.49],[2021.2,1.57],[2021.6,1.74],[2022.05,2.04],[2022.33,2.15],[2022.38,2.45],[2022.42,2.12],[2022.9,2.04],[2023.33,2.01],[2023.76,1.87],[2024.33,1.79],[2025.0,1.76],[2025.6,1.74],[2026.18,1.71],[2026.74,1.74]];

// ---- Meandre
const mdT3dHind = [[2009.0,0.014],[2009.1,0.044],[2009.3,0.084],[2009.65,0.094],[2010.05,0.104],[2010.26,0.175],[2010.4,0.215],[2010.66,0.215],[2010.93,0.265],[2011.2,0.315],[2011.4,0.305],[2011.81,0.305],[2012.08,0.345],[2012.49,0.37],[2012.96,0.375],[2013.16,0.446],[2013.36,0.486],[2013.7,0.526],[2013.97,0.536],[2014.24,0.556],[2014.51,0.53],[2014.92,0.526],[2015.19,0.556],[2015.46,0.59],[2015.73,0.57],[2016.0,0.556]];
const mdM3dHind = [[2009.0,0],[2009.51,0.02],[2010.05,0.032],[2010.58,0.044],[2010.6,0.108],[2010.62,0.046],[2011.14,0.064],[2012.13,0.088],[2012.15,0.175],[2012.17,0.09],[2012.76,0.114],[2013.43,0.14],[2014.1,0.169],[2014.78,0.2],[2015.46,0.229],[2016.12,0.255],[2016.14,0.285],[2016.16,0.257],[2016.68,0.265],[2017.0,0.269]];
const mdT3dFore = [[2017.0,0.556],[2017.2,0.586],[2017.6,0.59],[2017.9,0.576],[2018.16,0.6],[2018.43,0.576],[2018.77,0.57],[2019.1,0.6],[2019.38,0.594],[2019.78,0.576],[2020.12,0.6],[2020.46,0.586],[2020.86,0.57],[2021.27,0.596],[2021.68,0.586],[2021.95,0.566],[2022.35,0.6],[2022.76,0.586],[2023.03,0.606],[2023.43,0.622],[2023.84,0.596],[2024.24,0.616],[2024.65,0.606],[2025.05,0.636],[2025.46,0.616],[2025.86,0.642],[2026.27,0.65],[2026.74,0.63]];
const mdMF1 = [[2017.0,0.727],[2017.2,0.71],[2017.6,0.697],[2018.16,0.69],[2018.97,0.697],[2019.5,0.687],[2020.86,0.683],[2022.2,0.671],[2023.0,0.663],[2023.57,0.667],[2024.92,0.677],[2026.74,0.687]];
const mdMF5 = [[2017.0,0.723],[2017.2,0.737],[2017.4,0.687],[2017.76,0.637],[2018.16,0.616],[2018.84,0.61],[2019.5,0.61],[2020.86,0.61],[2021.95,0.616],[2022.35,0.647],[2023.03,0.657],[2023.84,0.657],[2024.92,0.657],[2025.24,0.657],[2025.26,0.707],[2025.28,0.657],[2025.99,0.657],[2026.74,0.671]];
const mdMF10 = [[2017.0,0.71],[2017.35,0.723],[2017.6,0.69],[2018.03,0.667],[2018.23,0.622],[2018.84,0.622],[2019.5,0.627],[2020.19,0.622],[2020.86,0.61],[2021.54,0.606],[2022.2,0.602],[2023.0,0.606],[2023.84,0.61],[2024.65,0.602],[2025.46,0.586],[2026.27,0.57],[2026.74,0.556]];

// ---- Zone endig.
const zeT3dHind = [[2009.0,0],[2009.06,0.78],[2009.2,-0.1],[2009.49,-0.52],[2009.9,-0.67],[2010.2,0.35],[2010.34,-0.8],[2010.77,-1.1],[2010.98,-0.9],[2011.08,3.4],[2011.2,1.37],[2011.34,-0.09],[2011.63,-1.25],[2011.98,-1.83],[2012.13,1.5],[2012.27,-1.25],[2012.63,-1.83],[2012.98,-2.12],[2013.13,1.66],[2013.27,-0.4],[2013.4,0.78],[2013.55,-1.8],[2013.77,-0.38],[2013.91,0.49],[2014.05,-1.5],[2014.2,0.49],[2014.34,-1.25],[2014.7,-2.41],[2014.98,-2.56],[2015.12,-0.38],[2015.27,-1.54],[2015.41,-0.96],[2015.6,-2.41],[2015.98,-2.7]];
const zeM3dHind = [[2009.0,0],[2009.2,1.22],[2009.49,0.78],[2009.77,0.44],[2010.13,0.78],[2010.27,1.37],[2010.48,0.78],[2010.77,0.35],[2011.06,0.93],[2011.34,0.2],[2011.77,-0.38],[2012.05,0.35],[2012.27,-0.67],[2012.63,-0.96],[2012.98,-1.25],[2013.27,-0.52],[2013.62,-0.81],[2013.91,-1.4],[2014.34,-1.4],[2014.62,-1.83],[2014.98,-2.12],[2015.34,-2.27],[2015.77,-2.7],[2016.05,-3.14],[2016.48,-2.99],[2016.77,-3.14],[2017.0,-3.14]];
const zeT3dFore = [[2017.0,-5.47],[2017.12,-3.0],[2017.33,-4.16],[2017.76,-5.47],[2018.05,-5.76],[2018.2,-3.58],[2018.4,-4.74],[2018.9,-5.9],[2019.05,-6.05],[2019.2,-3.72],[2019.4,-5.03],[2019.9,-6.34],[2020.05,-6.48],[2020.19,-4.3],[2020.4,-5.47],[2020.9,-6.48],[2021.04,-6.63],[2021.19,-4.45],[2021.4,-5.76],[2021.9,-6.77],[2022.04,-6.77],[2022.18,-4.74],[2022.4,-5.9],[2022.9,-6.92],[2023.04,-7.06],[2023.19,-5.03],[2023.4,-6.05],[2023.9,-7.06],[2024.05,-7.06],[2024.19,-5.18],[2024.4,-6.19],[2024.9,-6.92],[2025.04,-7.0],[2025.19,-5.03],[2025.4,-6.05],[2025.9,-6.48],[2026.04,-6.5],[2026.18,-5.18],[2026.4,-5.9],[2026.74,-6.63]];
const zeMF1 = [[2017.0,-2.41],[2017.12,-1.1],[2017.26,-0.67],[2017.48,-1.54],[2017.76,-2.41],[2017.98,-2.56],[2018.19,-1.4],[2018.4,-2.12],[2018.76,-2.7],[2019.05,-2.99],[2019.26,-2.41],[2019.48,-3.14],[2019.9,-3.72],[2020.12,-3.43],[2020.33,-4.0],[2020.76,-4.6],[2021.04,-4.74],[2021.19,-4.3],[2021.47,-4.88],[2021.9,-5.47],[2022.18,-5.03],[2022.47,-5.61],[2022.9,-5.9],[2023.19,-5.47],[2023.47,-6.05],[2023.9,-6.48],[2024.19,-5.9],[2024.48,-6.48],[2024.9,-6.92],[2025.19,-6.48],[2025.48,-6.92],[2025.9,-7.2],[2026.18,-6.77],[2026.74,-7.5]];
const zeMF5 = [[2017.0,-1.54],[2017.19,-2.7],[2017.48,-1.83],[2017.76,-0.81],[2018.12,-0.67],[2018.4,0.49],[2018.55,0.78],[2018.76,0.2],[2019.05,-0.38],[2019.33,-1.25],[2019.62,-1.69],[2019.9,-2.12],[2020.19,-2.56],[2020.62,-3.14],[2021.04,-3.72],[2021.47,-4.3],[2021.9,-4.74],[2022.33,-5.03],[2022.76,-5.32],[2023.19,-5.47],[2023.4,-3.87],[2023.69,-4.3],[2024.05,-4.88],[2024.48,-5.47],[2024.9,-6.05],[2025.33,-6.48],[2025.76,-6.92],[2026.18,-7.2],[2026.74,-7.5]];
const zeMF10 = [[2017.0,-3.0],[2017.19,-2.41],[2017.4,-2.7],[2017.76,-2.41],[2018.05,-2.56],[2018.4,-2.27],[2018.76,-1.83],[2019.05,-1.4],[2019.33,-0.96],[2019.62,-0.67],[2019.9,-0.81],[2020.1,1.22],[2020.15,-0.38],[2020.48,-0.23],[2020.9,-0.81],[2021.33,-0.96],[2021.76,-1.25],[2022.05,-2.41],[2022.47,-2.85],[2022.9,-3.14],[2023.19,-3.28],[2023.47,-4.0],[2023.9,-4.74],[2024.33,-5.32],[2024.76,-5.9],[2025.19,-6.34],[2025.62,-6.77],[2026.18,-7.06],[2026.74,-7.65]];

// ---- Pt Normandie-Tancarville
const pnT3dHind = [[2009.0,0.4],[2009.08,2.0],[2009.24,2.4],[2009.38,2.0],[2009.58,0],[2009.85,-1.1],[2010.05,-1.4],[2010.19,0.4],[2010.3,2.3],[2010.46,1.4],[2010.66,-0.8],[2010.86,-1.6],[2011.0,-1.0],[2011.2,1.8],[2011.4,0.8],[2011.61,-1.0],[2011.81,-1.7],[2011.95,-1.7],[2012.08,0.2],[2012.22,-0.6],[2012.35,0.2],[2012.49,1.6],[2012.65,0],[2012.82,-1.8],[2012.96,-0.8],[2013.16,0.6],[2013.41,1.2],[2013.57,0],[2013.77,-0.6],[2013.97,0.6],[2014.1,0.8],[2014.3,0],[2014.57,-0.8],[2014.85,-1.6],[2014.99,-0.4],[2015.19,0.6],[2015.39,0.9],[2015.53,0.2],[2015.73,-1.0],[2015.97,-1.9]];
const pnM3dHind = [[2009.0,0.1],[2009.51,-0.4],[2010.05,-0.9],[2010.59,-1.4],[2011.07,-2.1],[2011.4,-2.2],[2011.95,-2.6],[2012.49,-2.8],[2013.03,-3.0],[2013.57,-3.1],[2014.1,-3.4],[2014.65,-3.5],[2015.19,-3.7],[2015.46,-3.5],[2016.0,-3.7],[2016.41,-3.9],[2017.0,-3.8]];
const pnT3dFore = [[2017.0,0.4],[2017.08,-1.0],[2017.28,-1.4],[2017.42,0.2],[2017.55,-1.6],[2017.76,-2.4],[2017.89,-2.9],[2018.03,-0.8],[2018.23,-0.4],[2018.43,-1.2],[2018.7,-2.0],[2018.84,-2.6],[2019.0,-1.2],[2019.18,-0.6],[2019.38,0.2],[2019.58,-1.0],[2019.78,-2.0],[2019.92,-1.9],[2020.12,-0.2],[2020.32,0.2],[2020.59,-0.6],[2020.86,-1.7],[2021.0,-1.6],[2021.2,0.2],[2021.34,0.8],[2021.54,0],[2021.81,-0.8],[2021.95,-1.0],[2022.15,0.4],[2022.35,0.7],[2022.62,0],[2022.89,-0.9],[2023.05,0],[2023.23,0.6],[2023.43,0.3],[2023.64,-0.4],[2023.84,-0.9],[2024.04,0.2],[2024.24,0.8],[2024.45,0.2],[2024.72,-0.8],[2024.85,-1.1],[2025.05,0.8],[2025.19,1.2],[2025.39,0.2],[2025.66,-0.8],[2025.86,-0.8],[2026.07,0.6],[2026.27,1.0],[2026.47,0],[2026.74,-0.7]];
const pnMF1 = [[2017.0,-3.2],[2017.2,-3.6],[2017.6,-4.0],[2018.16,-4.6],[2018.57,-4.8],[2019.0,-5.0],[2019.5,-5.2],[2019.92,-5.4],[2020.32,-5.5],[2020.59,-5.7],[2021.0,-5.5],[2021.27,-5.8],[2021.68,-5.9],[2022.2,-5.8],[2022.62,-6.0],[2023.05,-6.2],[2023.43,-6.1],[2023.84,-6.4],[2024.24,-6.6],[2024.65,-6.5],[2025.05,-6.8],[2025.46,-6.9],[2025.86,-7.0],[2026.27,-7.2],[2026.74,-7.0]];
const pnMF5 = [[2017.0,-2.4],[2017.2,-2.8],[2017.49,-2.6],[2017.89,-3.0],[2018.3,-3.4],[2018.7,-3.8],[2019.0,-4.0],[2019.38,-3.7],[2019.65,-3.4],[2020.05,-3.7],[2020.59,-3.7],[2021.0,-3.8],[2021.27,-3.6],[2021.68,-3.8],[2022.2,-4.0],[2022.62,-4.2],[2023.05,-4.4],[2023.57,-4.5],[2024.24,-4.6],[2024.92,-4.7],[2025.6,-4.8],[2026.27,-4.8],[2026.74,-4.9]];
const pnMF10 = [[2017.0,-3.0],[2017.2,-2.4],[2017.35,-3.3],[2017.6,-3.1],[2018.03,-3.4],[2018.43,-3.7],[2018.84,-4.0],[2019.24,-4.3],[2019.65,-4.6],[2020.05,-4.8],[2020.46,-4.9],[2020.86,-4.8],[2021.27,-4.7],[2021.68,-4.6],[2021.95,-4.4],[2022.2,-4.3],[2022.62,-4.4],[2023.05,-4.5],[2023.57,-4.6],[2024.24,-4.6],[2024.92,-4.8],[2025.6,-4.9],[2026.27,-4.9],[2026.74,-5.0]];

// ---- layout
const COL_LEFT = [102, 681];
const COL_W = 514;
const ROW_TOP = [450, 656, 862, 1067, 1272];
const ROW_H = 182;
const LINE_KEYS = ['t3dHind', 't3dFore', 'm3dHind', 'mf1', 'mf5', 'mf10'];

const PANELS = [
    { label: 'Fosse Sud', col: 0, row: 0, yMin: -10, yMax: 4, yTicks: [-10, -5, 0], capTop: 149,
      measT: MEAS_T, measV: fsMeasV, err: MEAS_ERR.fs, lines: [fsT3dHind, fsT3dFore, fsM3dHind, fsMF1, fsMF5, fsMF10] },
    { label: 'Ratelet', col: 1, row: 0, yMin: -6, yMax: 5, yTicks: [-5, 0, 5], capTop: 150,
      measT: MEAS_T, measV: rtMeasV, err: MEAS_ERR.rt, lines: [rtT3dHind, rtT3dFore, rtM3dHind, rtMF1, rtMF5, rtMF10] },
    { label: 'Kannik', col: 0, row: 1, yMin: -3, yMax: 25, yTicks: [0, 10, 20], capTop: 10,
      measT: MEAS_T, measV: knMeasV, err: MEAS_ERR.kn, lines: [knT3dHind, knT3dFore, knM3dHind, knMF1, knMF5, knMF10] },
    { label: 'Amfart', col: 1, row: 1, yMin: -12, yMax: 2, yTicks: [-10, -5, 0], capTop: 148,
      measT: MEAS_T, measV: amMeasV, err: MEAS_ERR.am, lines: [amT3dHind, amT3dFore, amM3dHind, amMF1, amMF5, amMF10] },
    { label: 'Fosse Nord av.', col: 0, row: 2, yMin: -6, yMax: 1, yTicks: [-6, -4, -2, 0], capTop: 149, yName: 'Volume (Mm³)',
      measT: MEAS_T, measV: fnaMeasV, err: MEAS_ERR.fna, lines: [fnaT3dHind, fnaT3dFore, fnaM3dHind, fnaMF1, fnaMF5, fnaMF10] },
    { label: 'Fosse Nord am.', col: 1, row: 2, yMin: -2, yMax: 4, yTicks: [-2, 0, 2, 4], capTop: 18,
      measT: MEAS_T, measV: fnmMeasV, err: MEAS_ERR.fnm, lines: [fnmT3dHind, fnmT3dFore, fnmM3dHind, fnmMF1, fnmMF5, fnmMF10] },
    { label: 'Banc Passe', col: 0, row: 3, yMin: -0.5, yMax: 2.5, yTicks: [0, 1, 2], capTop: 20,
      measT: BP_MEAS_T, measV: bpMeasV, err: MEAS_ERR.bp, lines: [bpT3dHind, bpT3dFore, bpM3dHind, bpMF1, bpMF5, bpMF10] },
    { label: 'Meandre', col: 1, row: 3, yMin: -0.1, yMax: 1, yTicks: [0, 0.5, 1], capTop: 19,
      measT: MD_MEAS_T, measV: mdMeasV, err: MEAS_ERR.md, lines: [mdT3dHind, mdT3dFore, mdM3dHind, mdMF1, mdMF5, mdMF10] },
    { label: 'Zone endig.', col: 0, row: 4, yMin: -12, yMax: 4, yTicks: [-10, -5, 0], capTop: 149, xLabels: true,
      measT: MEAS_T, measV: zeMeasV, err: MEAS_ERR.ze, lines: [zeT3dHind, zeT3dFore, zeM3dHind, zeMF1, zeMF5, zeMF10] },
    { label: 'Pt Normandie-Tancarville', col: 1, row: 4, yMin: -8, yMax: 3, yTicks: [-8, -6, -4, -2, 0, 2], capTop: 149, xLabels: true,
      measT: MEAS_T, measV: pnMeasV, err: MEAS_ERR.pn, lines: [pnT3dHind, pnT3dFore, pnM3dHind, pnMF1, pnMF5, pnMF10] },
];

const grids = [], xAxes = [], yAxes = [], series = [], titles = [];

function addPanel(left, top, width, height, xLabels, yMin, yMax, yTicks, yExtra) {
    const gi = grids.length;
    grids.push({ left, top, width, height, show: true, borderColor: '#262626', borderWidth: 1,
        backgroundColor: '#fff', containLabel: false, outerBoundsMode: 'none' });
    xAxes.push({
        type: 'value', gridIndex: gi, min: X_MIN, max: X_MAX,
        axisLine: { show: false },
        axisTick: { show: true, inside: true, length: 5, customValues: YEAR_TICKS, lineStyle: { color: '#262626' } },
        axisLabel: { show: xLabels, customValues: YEAR_TICKS, rotate: 45, fontSize: 18, color: '#262626',
            margin: 5, verticalAlign: 'top', fontFamily: FONT, formatter: v => String(v) },
        splitLine: { show: true, lineStyle: { color: '#e3e3e3', width: 1 } },
    });
    yAxes.push(Object.assign({
        type: 'value', gridIndex: gi, min: yMin, max: yMax,
        axisLine: { show: false },
        axisTick: { show: true, inside: true, length: 5, customValues: yTicks, lineStyle: { color: '#262626' } },
        axisLabel: { customValues: yTicks, fontSize: 18, color: '#262626', margin: 8, fontFamily: FONT,
            formatter: v => String(v) },
        splitLine: { show: true, lineStyle: { color: '#e3e3e3', width: 1 } },
    }, yExtra || {}));
    return gi;
}

function lineSeries(key, data, gi, width, z) {
    return {
        name: NAMES[key], type: 'line', xAxisIndex: gi, yAxisIndex: gi, data,
        symbol: 'none', showSymbol: false, silent: true, z,
        lineStyle: { color: COLORS[key], width }, itemStyle: { color: COLORS[key] },
    };
}

function renderMeas(params, api) {
    const t = api.value(0), v = api.value(1), e = api.value(2);
    const c = api.coord([t, v]);
    const top = api.coord([t, v + e]);
    const bot = api.coord([t, v - e]);
    const lft = api.coord([t - 0.23, v]);
    const rgt = api.coord([t + 0.23, v]);
    const cap = 5, half = 4.5;
    const style = { stroke: COLORS.meas, lineWidth: 1.3, fill: null };
    const seg = (x1, y1, x2, y2) => ({ type: 'line', shape: { x1, y1, x2, y2 }, style });
    return {
        type: 'group',
        children: [
            seg(c[0], top[1], c[0], bot[1]),
            seg(c[0] - cap, top[1], c[0] + cap, top[1]),
            seg(c[0] - cap, bot[1], c[0] + cap, bot[1]),
            seg(lft[0], c[1], rgt[0], c[1]),
            seg(lft[0], c[1] - cap, lft[0], c[1] + cap),
            seg(rgt[0], c[1] - cap, rgt[0], c[1] + cap),
            { type: 'rect', shape: { x: c[0] - half, y: c[1] - half, width: 2 * half, height: 2 * half }, style },
        ],
    };
}

// Q panel
const gQ = addPanel(102, 70, 1093, 137, false, 0, 2000, [0, 1000, 2000], {
    name: 'Q (m³/s)', nameLocation: 'middle', nameGap: 63, nameRotate: 90,
    nameTextStyle: { fontSize: 20, color: '#262626', fontFamily: FONT },
});
series.push(lineSeries('m3dHind', qHind, gQ, 1.8, 3));
series.push(lineSeries('mf1', qMF1, gQ, 1.6, 4));
series.push(lineSeries('mf5', qMF5, gQ, 1.4, 5));
series.push(lineSeries('mf10', qMF10, gQ, 3.2, 6));

// Hs panel
const gH = addPanel(102, 230, 1093, 137, true, 0, 4, [0, 2, 4], {
    name: '{a|H}{s|s}{a| (m)}', nameLocation: 'middle', nameGap: 35, nameRotate: 90,
    nameTextStyle: { color: '#262626', fontFamily: FONT, rich: {
        a: { fontSize: 20, color: '#262626', fontFamily: FONT, padding: [0, 0, 5, 0], verticalAlign: 'bottom' },
        s: { fontSize: 15, color: '#262626', fontFamily: FONT, verticalAlign: 'bottom' },
    } },
});
const hsSeries = [['m3dHind', hsHind, HS_HIND_T0, 1.2], ['mf1', hsMF1, HS_FORE_T0, 0.9],
    ['mf5', hsMF5, HS_FORE_T0, 1.1], ['mf10', hsMF10, HS_FORE_T0, 1.4]];
hsSeries.forEach(([key, vals, t0, w], k) => {
    series.push(lineSeries(key, vals.map((v, i) => [t0 + i * HS_DT, v]), gH, w, 3 + k));
});

// volume panels
PANELS.forEach(p => {
    const left = COL_LEFT[p.col], top = ROW_TOP[p.row];
    const extra = p.yName ? {
        name: p.yName, nameLocation: 'middle', nameGap: 37, nameRotate: 90,
        nameTextStyle: { fontSize: 21, color: '#262626', fontFamily: FONT },
    } : null;
    const gi = addPanel(left, top, COL_W, ROW_H, !!p.xLabels, p.yMin, p.yMax, p.yTicks, extra);
    // zero reference line
    series.push({
        type: 'line', xAxisIndex: gi, yAxisIndex: gi, data: [], silent: true, z: 1,
        markLine: { silent: true, symbol: 'none', label: { show: false }, animation: false,
            lineStyle: { color: '#262626', width: 1, type: 'solid' }, data: [{ yAxis: 0 }] },
    });
    series.push({
        name: NAMES.meas, type: 'custom', xAxisIndex: gi, yAxisIndex: gi, z: 2, silent: true, clip: true,
        renderItem: renderMeas, itemStyle: { color: COLORS.meas },
        data: p.measT.map((t, i) => [t, p.measV[i], p.err]),
    });
    p.lines.forEach((d, k) => series.push(lineSeries(LINE_KEYS[k], d, gi, 1.8, 3 + k)));
    titles.push({
        text: p.label, left: left + 5, top: top + p.capTop - 2, padding: 0,
        textStyle: { fontSize: 24, fontWeight: 'normal', color: '#000', fontFamily: FONT },
    });
});

const legendRich = {
    g: { width: 5 },
    b: { fontSize: 16, color: '#000', fontFamily: FONT, padding: [0, 0, 5, 0], verticalAlign: 'bottom' },
    s: { fontSize: 12, color: '#000', fontFamily: FONT, verticalAlign: 'bottom' },
};
const LINE_ICON = 'path://M0,0H62V2H0Z';

const option = {
    animation: false,
    backgroundColor: '#fff',
    textStyle: { fontFamily: FONT },
    title: titles,
    legend: {
        left: 110, top: 21, padding: 0, itemGap: 13, itemWidth: 62, itemHeight: 22,
        selectedMode: false,
        formatter: n => LEGEND_LABELS[n],
        textStyle: { fontFamily: FONT, rich: legendRich },
        data: [
            { name: NAMES.meas, icon: 'path://M0,11H36M0,6V16M36,6V16M18,0V22M13,0H23M13,22H23M12,5H24V17H12Z',
              itemStyle: { color: 'rgba(0,0,0,0)', borderColor: COLORS.meas, borderWidth: 1.3 } },
            { name: NAMES.t3dHind, icon: LINE_ICON, itemStyle: { color: COLORS.t3dHind } },
            { name: NAMES.t3dFore, icon: LINE_ICON, itemStyle: { color: COLORS.t3dFore } },
            { name: NAMES.m3dHind, icon: LINE_ICON, itemStyle: { color: COLORS.m3dHind } },
            { name: NAMES.mf1, icon: LINE_ICON, itemStyle: { color: COLORS.mf1 } },
            { name: NAMES.mf5, icon: LINE_ICON, itemStyle: { color: COLORS.mf5 } },
            { name: NAMES.mf10, icon: LINE_ICON, itemStyle: { color: COLORS.mf10 } },
        ],
    },
    graphic: [{
        type: 'rect', silent: true, z: -1,
        shape: { x: 90.5, y: 12.5, width: 1115, height: 45 },
        style: { fill: '#fff', stroke: '#262626', lineWidth: 1 },
    }],
    grid: grids,
    xAxis: xAxes,
    yAxis: yAxes,
    series,
};

const chart = echarts.init(document.getElementById('chart'), null, { renderer: 'canvas' });
chart.setOption(option);
</script>
</body>
</html>
